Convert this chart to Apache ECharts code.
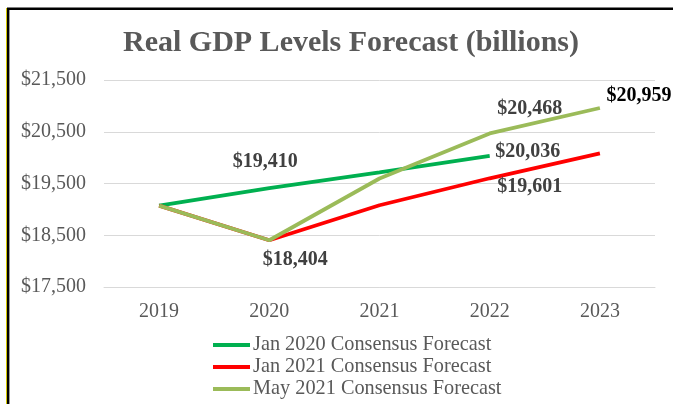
<!DOCTYPE html>
<html>
<head>
<meta charset="utf-8">
<script src="https://cdn.jsdelivr.net/npm/echarts@6/dist/echarts.min.js"></script>
<style>
html,body{margin:0;padding:0;background:#fff;}
#chart{width:673px;height:404px;}
</style>
</head>
<body>
<div id="chart"></div>
<script>
// ---- data ----
var years = ['2019', '2020', '2021', '2022', '2023'];
var jan2020 = [19073, 19410, 19717, 20036, null];
var jan2021 = [19073, 18404, 19080, 19601, 20083];
var may2021 = [19073, 18404, 19596, 20468, 20959];
var seriesNames = ['Jan 2020 Consensus Forecast', 'Jan 2021 Consensus Forecast', 'May 2021 Consensus Forecast'];
var yTicks = [17500, 18500, 19500, 20500, 21500];

var FONT = '"Liberation Serif", "Times New Roman", serif';
function money(v) { return '$' + Number(v).toLocaleString('en-US'); }

// label placement (style only, indexes into the arrays above)
var labelCfg = {
  0: { 1: { offset: [-4, -26] }, 3: { offset: [38, -4] } },
  1: { 1: { offset: [26, 20] }, 3: { offset: [40, 9] } },
  2: { 3: { offset: [40, -25] }, 4: { offset: [39, -12], color: '#000' } }
};

function buildData(arr, si) {
  return arr.map(function (v, i) {
    var c = labelCfg[si][i];
    if (v === null) return null;
    if (!c) return { value: v };
    return {
      value: v,
      label: {
        show: true,
        position: 'inside',
        offset: c.offset,
        formatter: function (p) { return money(p.value); },
        fontFamily: FONT,
        fontWeight: 'bold',
        fontSize: 20,
        color: c.color || '#404040'
      }
    };
  });
}

var colors = ['#00B050', '#FF0000', '#9BBB59'];
var datasets = [jan2020, jan2021, may2021];

var series = datasets.map(function (arr, si) {
  return {
    name: seriesNames[si],
    type: 'line',
    data: buildData(arr, si),
    symbol: 'circle',
    symbolSize: 0.1,
    showSymbol: true,
    connectNulls: false,
    itemStyle: { color: colors[si] },
    lineStyle: { color: colors[si], width: 3.8 },
    label: { show: false },
    emphasis: { disabled: true },
    z: 2 + si
  };
});

var chart = echarts.init(document.getElementById('chart'));
chart.setOption({
  animation: false,
  backgroundColor: '#fff',
  title: {
    text: 'Real GDP Levels Forecast (billions)',
    left: 346,
    textAlign: 'center',
    top: 23,
    textStyle: { fontFamily: FONT, fontWeight: 'bold', fontSize: 30, color: '#595959' }
  },
  grid: { left: 104, right: 18, top: 80, bottom: 117, containLabel: false },
  xAxis: {
    type: 'category',
    data: years,
    boundaryGap: true,
    axisLine: { show: true, lineStyle: { color: '#d9d9d9', width: 1 } },
    axisTick: { show: false },
    axisLabel: { fontFamily: FONT, fontSize: 20, color: '#595959', margin: 15 }
  },
  yAxis: {
    type: 'value',
    min: yTicks[0],
    max: yTicks[yTicks.length - 1],
    interval: yTicks[1] - yTicks[0],
    axisLine: { show: false },
    axisTick: { show: false },
    splitLine: { lineStyle: { color: '#d9d9d9', width: 1 } },
    axisLabel: { fontFamily: FONT, fontSize: 20, color: '#595959', margin: 18, formatter: money }
  },
  legend: {
    orient: 'vertical',
    left: 213,
    top: 335,
    height: 120,
    padding: 0,
    itemWidth: 37,
    itemHeight: 4,
    itemGap: 2,
    icon: 'rect',
    data: seriesNames,
    textStyle: { fontFamily: FONT, fontSize: 20.3, color: '#595959', lineHeight: 20, padding: [0, 0, 0, -2] }
  },
  series: series,
  graphic: [
    { type: 'line', shape: { x1: 6.5, y1: 8, x2: 6.5, y2: 404 }, style: { stroke: '#d4c600', lineWidth: 1 }, silent: true },
    { type: 'line', shape: { x1: 8, y1: 8, x2: 8, y2: 404 }, style: { stroke: '#000', lineWidth: 2 }, silent: true },
    { type: 'line', shape: { x1: 9.5, y1: 10, x2: 9.5, y2: 404 }, style: { stroke: '#999', lineWidth: 1 }, silent: true },
    { type: 'line', shape: { x1: 7, y1: 8.7, x2: 673, y2: 8.7 }, style: { stroke: '#000', lineWidth: 2.6 }, silent: true }
  ]
});
</script>
</body>
</html>
